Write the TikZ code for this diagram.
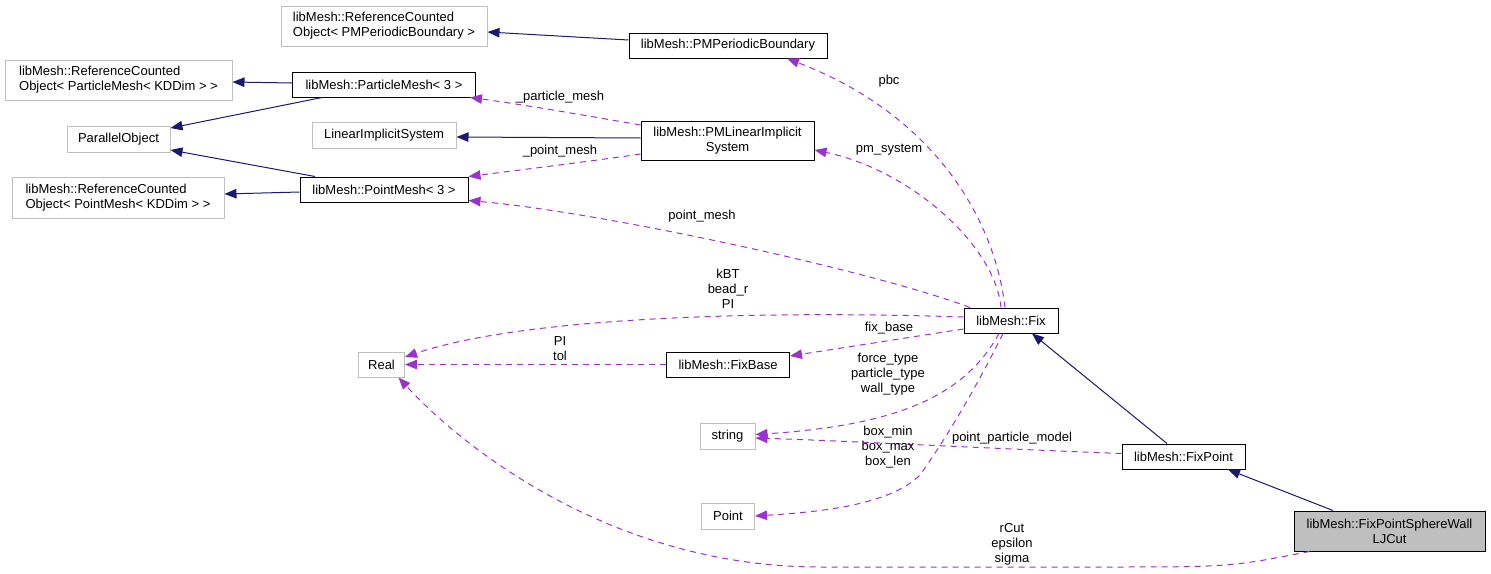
\documentclass[tikz,border=0pt]{standalone}
\usepackage{fontspec}
\setmainfont{Liberation Sans}
\usetikzlibrary{arrows.meta}
\definecolor{navy}{RGB}{25,25,112}
\definecolor{purp}{RGB}{154,50,205}
\definecolor{lgray}{RGB}{191,191,191}
\begin{document}
\begin{tikzpicture}[x=1pt,y=-1pt,
  every node/.style={font=\fontsize{13}{15}\selectfont},
  cls/.style={draw=black, fill=white, line width=1pt, inner sep=0pt, align=center},
  ext/.style={draw=lgray, fill=white, line width=1pt, inner sep=0pt, align=left},
  inh/.style={navy, line width=1pt, -{Triangle[length=12pt,width=9.5pt]}},
  use/.style={purp, line width=1pt, dash pattern=on 6pt off 5pt, -{Triangle[length=12pt,width=9.5pt]}},
  lbl/.style={inner sep=0pt, align=center}]
\useasboundingbox (0,0) rectangle (1491,573);

% nodes
\node[ext, minimum width=206pt, minimum height=40pt] (rcpmpb) at (384,26) {libMesh::ReferenceCounted\\Object< PMPeriodicBoundary >};
\node[cls, minimum width=198pt, minimum height=25pt] (pmpb) at (728,45.5) {libMesh::PMPeriodicBoundary};
\node[ext, minimum width=227pt, minimum height=40pt] (rcpm) at (118.5,80) {libMesh::ReferenceCounted\\Object< ParticleMesh< KDDim > >};
\node[cls, minimum width=183pt, minimum height=25pt] (partmesh) at (384,84.5) {libMesh::ParticleMesh< 3 >};
\node[ext, minimum width=103pt, minimum height=26pt] (parobj) at (118.5,139) {ParallelObject};
\node[ext, minimum width=144pt, minimum height=26pt] (lis) at (384,135) {LinearImplicitSystem};
\node[cls, minimum width=173pt, minimum height=39pt] (pmlis) at (727.5,140.5) {libMesh::PMLinearImplicit\\System};
\node[ext, minimum width=212pt, minimum height=41pt] (rcptm) at (118,197.5) {libMesh::ReferenceCounted\\Object< PointMesh< KDDim > >};
\node[cls, minimum width=168pt, minimum height=25pt] (ptmesh) at (384,189.5) {libMesh::PointMesh< 3 >};
\node[cls, minimum width=94pt, minimum height=25pt] (fix) at (1011,320.5) {libMesh::Fix};
\node[ext, minimum width=46pt, minimum height=25pt] (real) at (381.5,364.5) {Real};
\node[cls, minimum width=123pt, minimum height=25pt] (fixbase) at (728,364.5) {libMesh::FixBase};
\node[ext, minimum width=55pt, minimum height=26pt] (string) at (727.5,436.5) {string};
\node[cls, minimum width=123pt, minimum height=25pt] (fixpoint) at (1183.5,456.5) {libMesh::FixPoint};
\node[ext, minimum width=53pt, minimum height=26pt] (point) at (728,516) {Point};
\node[cls, fill=lgray, minimum width=191pt, minimum height=40pt] (fpsw) at (1389.5,531) {libMesh::FixPointSphereWall\\LJCut};

% inheritance
\draw[inh] ([yshift=5.5pt]pmpb.west) -- ([yshift=-6pt]rcpmpb.east);
\draw[inh] ([yshift=1.5pt]partmesh.west) -- ([yshift=-2pt]rcpm.east);
\draw[inh] ([xshift=-62pt]partmesh.south) -- ([yshift=11pt]parobj.east);
\draw[inh] ([yshift=2.5pt]pmlis.west) -- ([yshift=-2pt]lis.east);
\draw[inh] ([xshift=-69pt]ptmesh.north) -- ([yshift=-11pt]parobj.east);
\draw[inh] ([yshift=-2.5pt]ptmesh.west) -- ([yshift=3.5pt]rcptm.east);
\draw[inh] ([xshift=-16.5pt]fixpoint.north) -- ([xshift=21pt]fix.south);
\draw[inh] ([xshift=-56.5pt]fpsw.north) -- ([xshift=44.5pt]fixpoint.south);

% usage
\draw[use] ([xshift=-6pt]fix.north) .. controls (995,220) and (935,115) .. ([xshift=59pt]pmpb.south);
\node[lbl] (lpbc) at (889,81) {pbc};

\draw[use] ([yshift=15.5pt]pmlis.west) .. controls (600,118) and (520,104) .. ([xshift=-6pt]partmesh.south east);
\node[lbl] (lpart) at (560,97) {\_particle\_mesh};

\draw[use] ([yshift=-13.5pt]pmlis.west) .. controls (600,160) and (520,170) .. ([yshift=13pt]ptmesh.east);
\node[lbl] (lpt) at (560,151) {\_point\_mesh};

\draw[use] ([xshift=-10pt]fix.north) .. controls (995,245) and (910,170) .. ([yshift=-9.5pt]pmlis.east);
\node[lbl] (lpms) at (889,150) {pm\_system};

\draw[use] ([xshift=-41pt]fix.north) .. controls (870,270) and (600,212) .. ([yshift=-11pt]ptmesh.east);
\node[lbl] (lptm) at (702,216) {point\_mesh};

\draw[use] ([yshift=3.5pt]fix.west) .. controls (750,310) and (520,318) .. ([yshift=7.5pt]real.east);
\node[lbl] (lkbt) at (728,289) {kBT\\bead\_r\\PI};

\draw[use] ([yshift=-8.5pt]fix.west) -- ([yshift=8.5pt]fixbase.east);
\node[lbl] (lfb) at (889,328) {fix\_base};

\draw[use] (fixbase.west) -- (real.east);
\node[lbl] (lpitol) at (560,348.5) {PI\\tol};

\draw[use] ([xshift=-12pt]fix.south) .. controls (965,395) and (900,425) .. ([yshift=2pt]string.east);
\node[lbl] (lft) at (888,374) {force\_type\\particle\_type\\wall\_type};

\draw[use] ([yshift=3pt]fixpoint.west) .. controls (1000,449) and (850,441) .. ([yshift=-1.5pt]string.east);
\node[lbl] (lppm) at (1012,438) {point\_particle\_model};

\draw[use] ([xshift=-8pt]fix.south) .. controls (975,390) and (945,440) .. (920,475) .. controls (890,505) and (820,512) .. (point.east);
\node[lbl] (lbox) at (888,447) {box\_min\\box\_max\\box\_len};

\draw[use] ([xshift=16pt]fpsw.south west) .. controls (1230,567) .. (1100,567) -- (820,567) .. controls (620,567) and (470,455) .. ([xshift=17pt]real.south);
\node[lbl] (lrcut) at (1012,544) {rCut\\epsilon\\sigma};
\end{tikzpicture}
\end{document}
